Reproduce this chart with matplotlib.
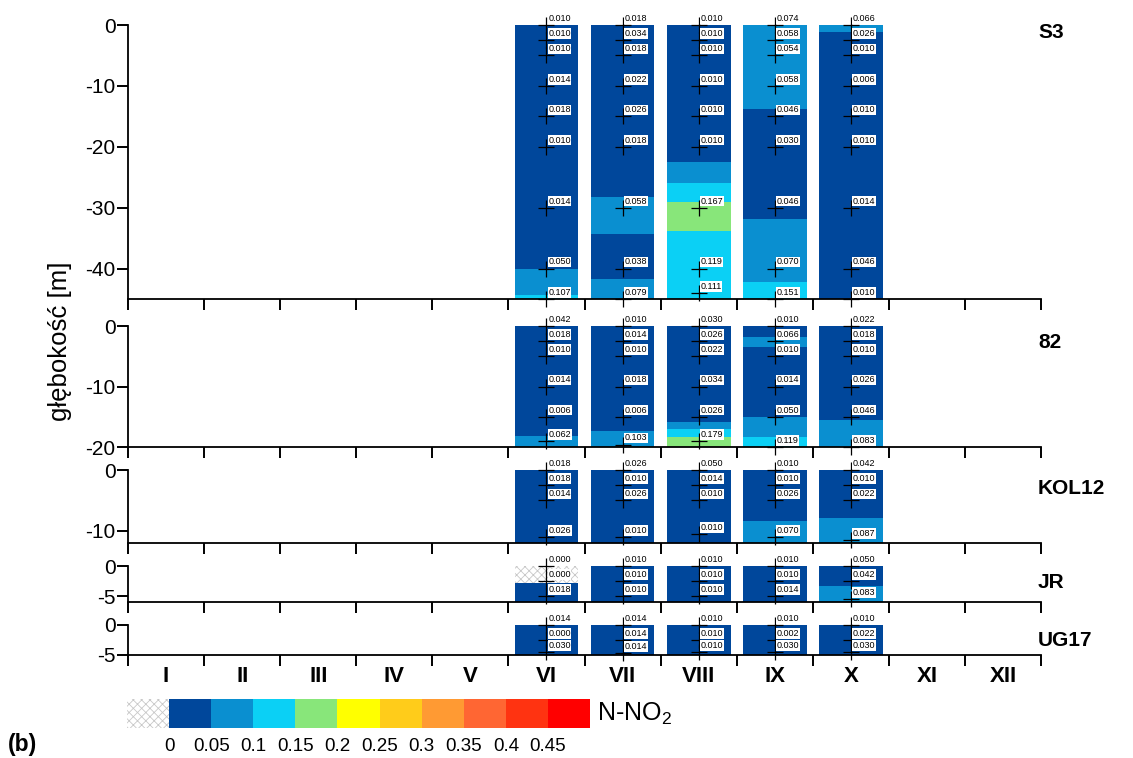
import numpy as np
import matplotlib.pyplot as plt

plt.rcParams['font.family'] = ['Liberation Sans', 'DejaVu Sans']
plt.rcParams['axes.unicode_minus'] = False
plt.rcParams['mathtext.fontset'] = 'custom'
plt.rcParams['mathtext.rm'] = 'Liberation Sans'
plt.rcParams['hatch.linewidth'] = 0.6

########################## data #####################################
months = ['I', 'II', 'III', 'IV', 'V', 'VI', 'VII', 'VIII', 'IX', 'X', 'XI', 'XII']
stations = ['S3', '82', 'KOL12', 'JR', 'UG17']
station_bottom = [-45, -20, -12, -6, -5]
station_yticks = [[0, -10, -20, -30, -40], [0, -10, -20], [0, -10], [0, -5], [0, -5]]

# colour classes of N-NO2, step 0.05 (class -1 = hatched, no value)
class_colors = ['#00479B', '#0A8FD0', '#0BD0F5', '#88E67A', '#FFFF00',
                '#FFCC1A', '#FF9A33', '#FF6633', '#FF3311', '#FF0000']
legend_labels = ['0', '0.05', '0.1', '0.15', '0.2', '0.25', '0.3', '0.35', '0.4', '0.45']

# layers: (boundaries [m], class of each layer)
s3_layers = {
    'VI':   ([0, -40, -44.4, -45], [0, 1, 2]),
    'VII':  ([0, -28.2, -34.3, -41.7, -45], [0, 1, 0, 1]),
    'VIII': ([0, -22.5, -25.9, -29, -33.8, -45], [0, 1, 2, 3, 2]),
    'IX':   ([0, -13.8, -31.8, -42.2, -45], [1, 0, 1, 2]),
    'X':    ([0, -1.2, -45], [1, 0]),
}
s3_depths = {
    'VI':   [0, -2.5, -5, -10, -15, -20, -30, -40, -45],
    'VII':  [0, -2.5, -5, -10, -15, -20, -30, -40, -45],
    'VIII': [0, -2.5, -5, -10, -15, -20, -30, -40, -44],
    'IX':   [0, -2.5, -5, -10, -15, -20, -30, -40, -45],
    'X':    [0, -2.5, -5, -10, -15, -20, -30, -40, -45],
}
s3_values = {
    'VI':   [0.010, 0.010, 0.010, 0.014, 0.018, 0.010, 0.014, 0.050, 0.107],
    'VII':  [0.018, 0.034, 0.018, 0.022, 0.026, 0.018, 0.058, 0.038, 0.079],
    'VIII': [0.010, 0.010, 0.010, 0.010, 0.010, 0.010, 0.167, 0.119, 0.111],
    'IX':   [0.074, 0.058, 0.054, 0.058, 0.046, 0.030, 0.046, 0.070, 0.151],
    'X':    [0.066, 0.026, 0.010, 0.006, 0.010, 0.010, 0.014, 0.046, 0.010],
}

p82_layers = {
    'VI':   ([0, -18.1, -20], [0, 1]),
    'VII':  ([0, -17.3, -20], [0, 1]),
    'VIII': ([0, -15.8, -17.1, -18.3, -20], [0, 1, 2, 3]),
    'IX':   ([0, -1.8, -3.4, -15, -18.3, -20], [0, 1, 0, 1, 2]),
    'X':    ([0, -15.6, -20], [0, 1]),
}
p82_depths = {
    'VI':   [0, -2.5, -5, -10, -15, -19],
    'VII':  [0, -2.5, -5, -10, -15, -19.6],
    'VIII': [0, -2.5, -5, -10, -15, -19],
    'IX':   [0, -2.5, -5, -10, -15, -20],
    'X':    [0, -2.5, -5, -10, -15, -20],
}
p82_values = {
    'VI':   [0.042, 0.018, 0.010, 0.014, 0.006, 0.062],
    'VII':  [0.010, 0.014, 0.010, 0.018, 0.006, 0.103],
    'VIII': [0.030, 0.026, 0.022, 0.034, 0.026, 0.179],
    'IX':   [0.010, 0.066, 0.010, 0.014, 0.050, 0.119],
    'X':    [0.022, 0.018, 0.010, 0.026, 0.046, 0.083],
}

kol12_layers = {
    'VI':   ([0, -12], [0]),
    'VII':  ([0, -12], [0]),
    'VIII': ([0, -12], [0]),
    'IX':   ([0, -8.4, -12], [0, 1]),
    'X':    ([0, -7.9, -12], [0, 1]),
}
kol12_depths = {
    'VI':   [0, -2.5, -5, -11],
    'VII':  [0, -2.5, -5, -11],
    'VIII': [0, -2.5, -5, -10.5],
    'IX':   [0, -2.5, -5, -11],
    'X':    [0, -2.5, -5, -11.5],
}
kol12_values = {
    'VI':   [0.018, 0.018, 0.014, 0.026],
    'VII':  [0.026, 0.010, 0.026, 0.010],
    'VIII': [0.050, 0.014, 0.010, 0.010],
    'IX':   [0.010, 0.010, 0.026, 0.070],
    'X':    [0.042, 0.010, 0.022, 0.087],
}

jr_layers = {
    'VI':   ([0, -2.8, -6], [-1, 0]),
    'VII':  ([0, -6], [0]),
    'VIII': ([0, -6], [0]),
    'IX':   ([0, -6], [0]),
    'X':    ([0, -3.3, -6], [0, 1]),
}
jr_depths = {
    'VI':   [0, -2.5, -5],
    'VII':  [0, -2.5, -5],
    'VIII': [0, -2.5, -5],
    'IX':   [0, -2.5, -5],
    'X':    [0, -2.5, -5.5],
}
jr_values = {
    'VI':   [0.000, 0.000, 0.018],
    'VII':  [0.010, 0.010, 0.010],
    'VIII': [0.010, 0.010, 0.010],
    'IX':   [0.010, 0.010, 0.014],
    'X':    [0.050, 0.042, 0.083],
}

ug17_layers = {m: ([0, -5], [0]) for m in ['VI', 'VII', 'VIII', 'IX', 'X']}
ug17_depths = {
    'VI':   [0, -2.5, -4.5],
    'VII':  [0, -2.5, -4.7],
    'VIII': [0, -2.5, -4.5],
    'IX':   [0, -2.5, -4.5],
    'X':    [0, -2.5, -4.5],
}
ug17_values = {
    'VI':   [0.014, 0.000, 0.030],
    'VII':  [0.014, 0.014, 0.014],
    'VIII': [0.010, 0.010, 0.010],
    'IX':   [0.010, 0.002, 0.030],
    'X':    [0.010, 0.022, 0.030],
}

all_layers = [s3_layers, p82_layers, kol12_layers, jr_layers, ug17_layers]
all_depths = [s3_depths, p82_depths, kol12_depths, jr_depths, ug17_depths]
all_values = [s3_values, p82_values, kol12_values, jr_values, ug17_values]

########################## layout (pixels) #################################
W, H = 1133, 758
panel_top_px = [25, 326, 470, 566, 625]
panel_bot_px = [299, 447, 543, 602, 655]
label_y_px = [32, 343, 488, 583, 640]
x0_px, x1_px = 128, 1041
bar_w = 0.84
hatch_col = '#C8C8C8'

fig = plt.figure(figsize=(W / 100, H / 100), dpi=100)

for i, st in enumerate(stations):
    ax = fig.add_axes([x0_px / W, 1 - panel_bot_px[i] / H,
                       (x1_px - x0_px) / W, (panel_bot_px[i] - panel_top_px[i]) / H])
    ax.set_xlim(0, 12)
    ax.set_ylim(station_bottom[i], 0)
    for sp in ['top', 'right']:
        ax.spines[sp].set_visible(False)
    for sp in ['left', 'bottom']:
        ax.spines[sp].set_linewidth(1.3)
    ax.set_yticks(station_yticks[i])
    ax.set_xticks(range(13))
    ax.set_xticklabels([])
    ax.tick_params(axis='both', which='major', direction='out', length=8, width=1.4,
                   labelsize=15, pad=1)
    if i == len(stations) - 1:
        ax.set_xticks(np.arange(12) + 0.5, minor=True)
        ax.set_xticklabels(months, minor=True, fontweight='bold', fontsize=16)
        ax.tick_params(axis='x', which='minor', length=0, pad=8)

    for m, (bnds, cls) in all_layers[i].items():
        xc = months.index(m) + 0.5
        for top, bot, c in zip(bnds[:-1], bnds[1:], cls):
            if c < 0:
                ax.bar(xc, top - bot, bottom=bot, width=bar_w, color='white',
                       edgecolor=hatch_col, hatch='xxxx', linewidth=0, zorder=1)
            else:
                ax.bar(xc, top - bot, bottom=bot, width=bar_w, color=class_colors[c],
                       linewidth=0, zorder=1)
        d = all_depths[i][m]
        v = all_values[i][m]
        ax.plot([xc] * len(d), d, linestyle='none', marker='+', markersize=12,
                markeredgewidth=0.9, color='black', clip_on=False, zorder=3)
        for dd, vv in zip(d, v):
            ax.annotate(f'{vv:.3f}', (xc, dd), xytext=(1.3, 1.5), textcoords='offset points',
                        fontsize=6.5, ha='left', va='bottom', zorder=4, annotation_clip=False,
                        bbox=dict(boxstyle='square,pad=0.08', fc='white', ec='none'))

    fig.text(1038 / W, 1 - label_y_px[i] / H, st,
             fontsize=15, fontweight='bold', va='center', ha='left')

fig.text(60 / W, 1 - 341 / H, 'głębokość [m]', rotation=90, fontsize=18.5,
         va='center', ha='center')

########################## legend #################################
lax = fig.add_axes([127 / W, 1 - 728 / H, (590 - 127) / W, 29 / H])
lax.set_xlim(-1, 10)
lax.set_ylim(0, 1)
lax.bar(-1, 1, width=1, align='edge', color='white', edgecolor=hatch_col,
        hatch='xxxx', linewidth=0)
lax.bar(np.arange(10), np.ones(10), width=1, align='edge', color=class_colors, linewidth=0)
for sp in lax.spines.values():
    sp.set_visible(False)
lax.set_yticks([])
lax.set_xticks(np.arange(10))
lax.set_xticklabels(legend_labels, fontsize=13.5)
lax.tick_params(axis='x', length=0, pad=7)

fig.text(597 / W, 1 - 714 / H, 'N-NO$_2$', fontsize=18, va='center', ha='left')
fig.text(8 / W, 1 - 745 / H, '(b)', fontsize=16.5, fontweight='bold', va='center', ha='left')

plt.savefig('out.png', dpi=100)
